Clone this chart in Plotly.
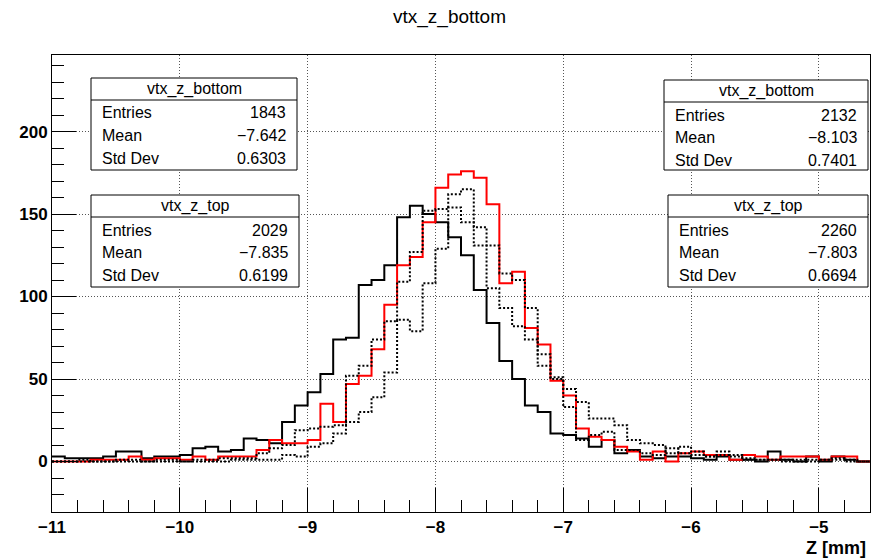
import plotly.graph_objects as go

# ---------------- data ----------------
x_min, x_max = -11.0, -4.6
bin_width = 0.1
n_bins = 64
edges = [round(x_min + i * bin_width, 4) for i in range(n_bins + 1)]

# black solid  (vtx_z_bottom, right box)
bottom_b = [3, 2, 2, 2, 3, 6, 6, 2, 3, 3,
            4, 8, 9, 6, 7, 14, 13, 11, 24, 34,
            42, 53, 74, 75, 107, 110, 119, 148, 155, 150,
            145, 136, 125, 104, 84, 61, 50, 34, 30, 17,
            16, 14, 9, 13, 5, 7, 3, 2, 3, 3,
            2, 1, 3, 1, 1, 0, 6, 1, 0, 3,
            0, 3, 1, 0]
# red solid  (vtx_z_top, right box)
top_r = [0, 0, 0, 1, 1, 1, 3, 1, 2, 2,
         1, 3, 1, 3, 3, 3, 7, 13, 11, 11,
         13, 35, 24, 47, 52, 68, 95, 119, 124, 145,
         166, 174, 176, 172, 156, 108, 115, 81, 71, 49,
         40, 20, 15, 13, 9, 6, 1, 6, 0, 5,
         6, 4, 4, 1, 4, 3, 1, 3, 3, 3,
         1, 3, 3, 0]
# black dotted  (vtx_z_top, left box)
top_d = [0, 0, 1, 0, 0, 1, 1, 0, 1, 1,
         0, 1, 1, 2, 2, 2, 5, 8, 10, 19,
         20, 21, 22, 52, 58, 74, 85, 109, 127, 152,
         153, 162, 165, 142, 105, 93, 82, 74, 58, 50,
         33, 13, 16, 18, 7, 7, 5, 4, 8, 5,
         4, 3, 6, 4, 2, 1, 1, 1, 1, 0,
         1, 2, 1, 0]
# black dotted  (vtx_z_bottom, left box)
bottom_d = [0, 0, 0, 0, 0, 0, 0, 0, 0, 0,
            0, 0, 0, 0, 1, 1, 1, 1, 4, 3,
            9, 11, 17, 24, 30, 39, 54, 86, 79, 108,
            129, 154, 145, 131, 131, 114, 110, 93, 65, 51,
            44, 36, 26, 26, 22, 13, 11, 10, 5, 9,
            6, 3, 4, 3, 1, 1, 1, 0, 0, 1,
            1, 1, 0, 0]

stats = [
    # name, entries, mean, std, box (left, top, right, bottom) in px
    ("vtx_z_bottom", "1843", "\u22127.642", "0.6303", (91, 78, 297, 170)),
    ("vtx_z_top", "2029", "\u22127.835", "0.6199", (91, 195, 299, 287)),
    ("vtx_z_bottom", "2132", "\u22128.103", "0.7401", (664, 80, 868, 170)),
    ("vtx_z_top", "2260", "\u22127.803", "0.6694", (668, 195, 868, 287)),
]

# ---------------- figure ----------------
W, H = 873, 559
L, R, T, B = 52, 870, 55, 512
y_range = [-30.6, 246.4]


def px(xp):
    return (xp - L) / (R - L)


def py(yp):
    return (B - yp) / (B - T)


fig = go.Figure()


def add_hist(vals, color, dash):
    fig.add_trace(go.Scatter(
        x=edges, y=list(vals) + [vals[-1]], mode="lines", line_shape="hv",
        line=dict(color=color, width=2, dash=dash), hoverinfo="skip",
        showlegend=False))


add_hist(bottom_b, "black", "solid")
add_hist(top_r, "#ff0000", "solid")
add_hist(top_d, "black", "2px,2px")
add_hist(bottom_d, "black", "2px,2px")

shapes = []
annotations = []
font = dict(family="Liberation Sans, Arial, sans-serif", size=16, color="black")
for name, ent, mean, std, (bl, bt, br, bb) in stats:
    shapes.append(dict(type="rect", xref="paper", yref="paper",
                       x0=px(bl), x1=px(br), y0=py(bb), y1=py(bt),
                       line=dict(color="black", width=1), fillcolor="white",
                       layer="above"))
    shapes.append(dict(type="line", xref="paper", yref="paper",
                       x0=px(bl), x1=px(br), y0=py(bt + 22), y1=py(bt + 22),
                       line=dict(color="black", width=1), layer="above"))
    annotations.append(dict(xref="paper", yref="paper", x=px((bl + br) / 2),
                            y=py(bt + 11), text=name, showarrow=False,
                            xanchor="center", yanchor="middle", font=font))
    for k, (lab, val) in enumerate([("Entries", ent), ("Mean", mean), ("Std Dev", std)]):
        yy = bt + 35 + 22.5 * k
        annotations.append(dict(xref="paper", yref="paper", x=px(bl + 9), y=py(yy),
                                text=lab, showarrow=False, xanchor="left",
                                yanchor="middle", font=font))
        annotations.append(dict(xref="paper", yref="paper", x=px(br - 9), y=py(yy),
                                text=val, showarrow=False, xanchor="right",
                                yanchor="middle", font=font))

annotations.append(dict(xref="paper", yref="paper", x=px(449), y=py(17),
                        text="vtx_z_bottom", showarrow=False, xanchor="center",
                        yanchor="middle",
                        font=dict(family="Liberation Sans, Arial, sans-serif",
                                  size=19, color="black")))
annotations.append(dict(xref="paper", yref="paper", x=px(868), y=py(548),
                        text="Z [mm]", showarrow=False, xanchor="right",
                        yanchor="middle",
                        font=dict(family="Liberation Sans, Arial, sans-serif",
                                  size=18, color="black", weight="bold")))

tickfont = dict(family="Liberation Sans, Arial, sans-serif", size=17,
                color="black", weight="bold")
fig.update_layout(
    width=W, height=H,
    margin=dict(l=L, r=W - R, t=T, b=H - B, pad=0),
    paper_bgcolor="white", plot_bgcolor="white",
    shapes=shapes, annotations=annotations,
    xaxis=dict(range=[x_min, x_max], tick0=-11, dtick=1, ticks="inside",
               ticklen=24, tickcolor="black", tickwidth=1,
               minor=dict(dtick=0.2, ticks="inside", ticklen=12,
                          tickcolor="black", showgrid=False),
               showline=True, linecolor="black", linewidth=1, mirror=True,
               showgrid=True, gridcolor="#555555", griddash="1px,2px", gridwidth=1,
               zeroline=False, tickfont=tickfont),
    yaxis=dict(range=y_range, tick0=0, dtick=50, ticks="inside",
               ticklen=24, tickcolor="black", tickwidth=1,
               minor=dict(dtick=10, ticks="inside", ticklen=12,
                          tickcolor="black", showgrid=False),
               showline=True, linecolor="black", linewidth=1, mirror=True,
               showgrid=True, gridcolor="#555555", griddash="1px,2px", gridwidth=1,
               zeroline=False, tickfont=tickfont),
)

fig.write_html("out.html")
